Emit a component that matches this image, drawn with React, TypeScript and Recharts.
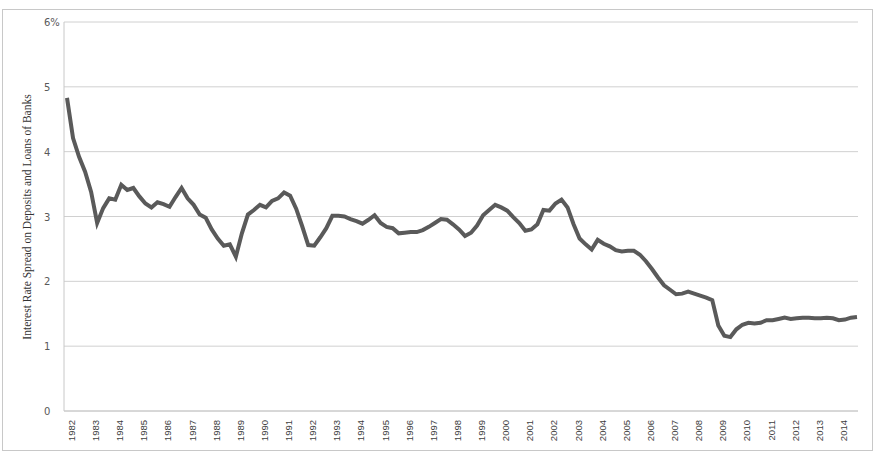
import { LineChart, Line, XAxis, YAxis, CartesianGrid } from 'recharts';

// quarterly spread, 1982Q1 .. 2014Q4
const years: number[] = [];
for (let y = 1982; y <= 2014; y++) years.push(y);

const spread = [
  4.83, 4.21, 3.92, 3.69, 3.38, 2.9, 3.13, 3.28, 3.26, 3.49, 3.41, 3.44,
  3.31, 3.2, 3.14, 3.22, 3.19, 3.15, 3.3, 3.44, 3.28, 3.18, 3.03, 2.98,
  2.8, 2.66, 2.55, 2.57, 2.38, 2.74, 3.03, 3.1, 3.18, 3.14, 3.24, 3.28,
  3.37, 3.32, 3.12, 2.85, 2.56, 2.55, 2.68, 2.82, 3.01, 3.01, 3.0, 2.96,
  2.93, 2.89, 2.95, 3.02, 2.9, 2.84, 2.82, 2.74, 2.75, 2.76, 2.76, 2.79,
  2.84, 2.9, 2.96, 2.95, 2.88, 2.8, 2.7, 2.75, 2.86, 3.02, 3.1, 3.18,
  3.14, 3.09, 2.99, 2.9, 2.78, 2.8, 2.88, 3.1, 3.09, 3.2, 3.26, 3.14,
  2.88, 2.66, 2.57, 2.49, 2.64, 2.58, 2.54, 2.48, 2.46, 2.47, 2.47, 2.41,
  2.31, 2.19, 2.06, 1.94, 1.87, 1.8, 1.81, 1.84, 1.81, 1.78, 1.75, 1.71,
  1.32, 1.16, 1.14, 1.26, 1.33, 1.36, 1.35, 1.36, 1.4, 1.4, 1.42, 1.44,
  1.42, 1.43, 1.44, 1.44, 1.43, 1.43, 1.44, 1.43, 1.4, 1.41, 1.44, 1.45,
];

const yTicks = [0, 1, 2, 3, 4, 5, 6];

const data = spread.map((v, i) => ({
  q: `${years[Math.floor(i / 4)]}Q${(i % 4) + 1}`,
  v,
}));
const yearTicks = years.map((y) => `${y}Q1`);

const YearTick = ({ x, y, payload }: any) => (
  <text
    x={x + 8}
    y={y + 1}
    transform={`rotate(-90 ${x + 8} ${y + 1})`}
    textAnchor="end"
    fontSize={9.5}
    fontFamily="Liberation Sans, Arial, sans-serif"
    fill="#404040"
  >
    {String(payload.value).slice(0, 4)}
  </text>
);

const ValueTick = ({ y, payload }: any) => (
  <text x={44} y={y + 4} textAnchor="start" fontSize={10} fontFamily="DejaVu Sans, sans-serif" fill="#595959">
    {payload.value === 6 ? '6%' : payload.value}
  </text>
);

const AxisTitle = () => (
  <text
    x={31}
    y={217}
    transform="rotate(-90 31 217)"
    textAnchor="middle"
    fontSize={11.5}
    fontFamily="Liberation Serif, Times New Roman, serif"
    fill="#333"
  >
    Interest Rate Spread on Deposits and Loans of Banks
  </text>
);

export default function App() {
  return (
    <div style={{ position: 'absolute', left: 0, top: 0, width: 878, height: 460, background: '#fff' }}>
      <div
        style={{
          position: 'absolute',
          left: 2,
          top: 9,
          width: 869,
          height: 440,
          border: '1px solid #c8c8c8',
        }}
      />
      <LineChart
        width={878}
        height={460}
        data={data}
        margin={{ top: 22, right: 20, left: 0, bottom: 0 }}
        style={{ position: 'absolute', left: 0, top: 0 }}
      >
        <CartesianGrid vertical={false} stroke="#d0d0d0" />
        <XAxis
          dataKey="q"
          ticks={yearTicks}
          interval={0}
          height={49}
          tick={<YearTick />}
          tickLine={false}
          axisLine={{ stroke: '#c8c8c8' }}
          padding={{ left: 3, right: 1 }}
        />
        <YAxis
          domain={[0, 6]}
          ticks={yTicks}
          width={64}
          tick={<ValueTick />}
          tickLine={false}
          axisLine={{ stroke: '#c8c8c8' }}
          label={{ content: () => <AxisTitle /> }}
        />
        <Line
          type="linear"
          dataKey="v"
          stroke="#5a5a5a"
          strokeWidth={4}
          dot={false}
          isAnimationActive={false}
        />
      </LineChart>
    </div>
  );
}
